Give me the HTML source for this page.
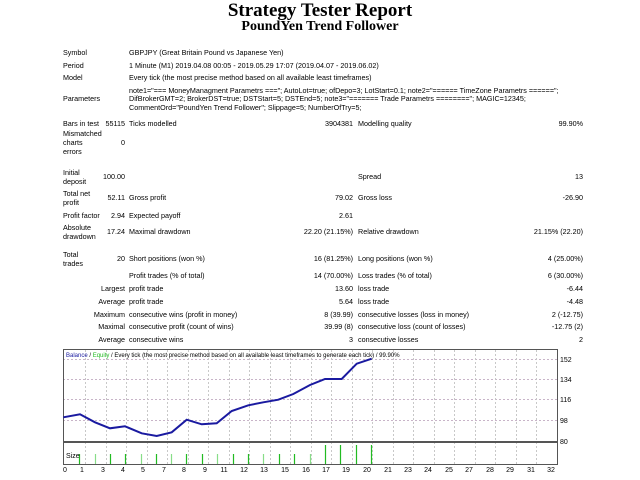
<!DOCTYPE html>
<html><head><meta charset="utf-8"><style>
body{margin:0;width:640px;height:480px;background:#fff;position:relative;overflow:hidden;font-family:"Liberation Sans",sans-serif;font-size:7.2px;color:#000}
.t{position:absolute;white-space:nowrap;line-height:8px}
.r{text-align:right}
h1,h2{position:absolute;left:0;width:640px;text-align:center;margin:0;font-family:"Liberation Serif",serif;font-weight:bold}
</style></head><body>
<h1 style="top:0px;font-size:19px;line-height:22px">Strategy Tester Report</h1>
<h2 style="top:19px;font-size:14px;line-height:16px">PoundYen Trend Follower</h2>

<div class="t" style="left:63px;top:49px">Symbol</div>
<div class="t" style="left:129px;top:49px">GBPJPY (Great Britain Pound vs Japanese Yen)</div>
<div class="t" style="left:63px;top:62px">Period</div>
<div class="t" style="left:129px;top:62px">1 Minute (M1) 2019.04.08 00:05 - 2019.05.29 17:07 (2019.04.07 - 2019.06.02)</div>
<div class="t" style="left:63px;top:74px">Model</div>
<div class="t" style="left:129px;top:74px">Every tick (the most precise method based on all available least timeframes)</div>
<div class="t" style="left:63px;top:95px">Parameters</div>
<div class="t" style="left:129px;top:87px">note1="=== MoneyManagment Parametrs ==="; AutoLot=true; ofDepo=3; LotStart=0.1; note2="====== TimeZone Parametrs ======";</div>
<div class="t" style="left:129px;top:95px">DifBrokerGMT=2; BrokerDST=true; DSTStart=5; DSTEnd=5; note3="======= Trade Parametrs ========"; MAGIC=12345;</div>
<div class="t" style="left:129px;top:104px">CommentOrd="PoundYen Trend Follower"; Slippage=5; NumberOfTry=5;</div>

<div class="t" style="left:63px;top:120px">Bars in test</div>
<div class="t r" style="left:100px;width:25px;top:120px">55115</div>
<div class="t" style="left:129px;top:120px">Ticks modelled</div>
<div class="t r" style="left:290px;width:63px;top:120px">3904381</div>
<div class="t" style="left:358px;top:120px">Modelling quality</div>
<div class="t r" style="left:520px;width:63px;top:120px">99.90%</div>
<div class="t" style="left:63px;top:130px">Mismatched</div>
<div class="t" style="left:63px;top:139px">charts</div>
<div class="t" style="left:63px;top:148px">errors</div>
<div class="t r" style="left:100px;width:25px;top:139px">0</div>

<div class="t" style="left:63px;top:169px">Initial</div>
<div class="t" style="left:63px;top:178px">deposit</div>
<div class="t r" style="left:90px;width:35px;top:173px">100.00</div>
<div class="t" style="left:358px;top:173px">Spread</div>
<div class="t r" style="left:520px;width:63px;top:173px">13</div>

<div class="t" style="left:63px;top:190px">Total net</div>
<div class="t" style="left:63px;top:199px">profit</div>
<div class="t r" style="left:90px;width:35px;top:194px">52.11</div>
<div class="t" style="left:129px;top:194px">Gross profit</div>
<div class="t r" style="left:290px;width:63px;top:194px">79.02</div>
<div class="t" style="left:358px;top:194px">Gross loss</div>
<div class="t r" style="left:520px;width:63px;top:194px">-26.90</div>

<div class="t" style="left:63px;top:212px">Profit factor</div>
<div class="t r" style="left:90px;width:35px;top:212px">2.94</div>
<div class="t" style="left:129px;top:212px">Expected payoff</div>
<div class="t r" style="left:290px;width:63px;top:212px">2.61</div>

<div class="t" style="left:63px;top:224px">Absolute</div>
<div class="t" style="left:63px;top:233px">drawdown</div>
<div class="t r" style="left:90px;width:35px;top:228px">17.24</div>
<div class="t" style="left:129px;top:228px">Maximal drawdown</div>
<div class="t r" style="left:250px;width:103px;top:228px">22.20 (21.15%)</div>
<div class="t" style="left:358px;top:228px">Relative drawdown</div>
<div class="t r" style="left:480px;width:103px;top:228px">21.15% (22.20)</div>

<div class="t" style="left:63px;top:251px">Total</div>
<div class="t" style="left:63px;top:260px">trades</div>
<div class="t r" style="left:90px;width:35px;top:255px">20</div>
<div class="t" style="left:129px;top:255px">Short positions (won %)</div>
<div class="t r" style="left:250px;width:103px;top:255px">16 (81.25%)</div>
<div class="t" style="left:358px;top:255px">Long positions (won %)</div>
<div class="t r" style="left:480px;width:103px;top:255px">4 (25.00%)</div>

<div class="t" style="left:129px;top:272px">Profit trades (% of total)</div>
<div class="t r" style="left:250px;width:103px;top:272px">14 (70.00%)</div>
<div class="t" style="left:358px;top:272px">Loss trades (% of total)</div>
<div class="t r" style="left:480px;width:103px;top:272px">6 (30.00%)</div>

<div class="t r" style="left:70px;width:55px;top:285px">Largest</div>
<div class="t" style="left:129px;top:285px">profit trade</div>
<div class="t r" style="left:250px;width:103px;top:285px">13.60</div>
<div class="t" style="left:358px;top:285px">loss trade</div>
<div class="t r" style="left:480px;width:103px;top:285px">-6.44</div>

<div class="t r" style="left:70px;width:55px;top:298px">Average</div>
<div class="t" style="left:129px;top:298px">profit trade</div>
<div class="t r" style="left:250px;width:103px;top:298px">5.64</div>
<div class="t" style="left:358px;top:298px">loss trade</div>
<div class="t r" style="left:480px;width:103px;top:298px">-4.48</div>

<div class="t r" style="left:70px;width:55px;top:311px">Maximum</div>
<div class="t" style="left:129px;top:311px">consecutive wins (profit in money)</div>
<div class="t r" style="left:250px;width:103px;top:311px">8 (39.99)</div>
<div class="t" style="left:358px;top:311px">consecutive losses (loss in money)</div>
<div class="t r" style="left:480px;width:103px;top:311px">2 (-12.75)</div>

<div class="t r" style="left:70px;width:55px;top:323px">Maximal</div>
<div class="t" style="left:129px;top:323px">consecutive profit (count of wins)</div>
<div class="t r" style="left:250px;width:103px;top:323px">39.99 (8)</div>
<div class="t" style="left:358px;top:323px">consecutive loss (count of losses)</div>
<div class="t r" style="left:480px;width:103px;top:323px">-12.75 (2)</div>

<div class="t r" style="left:70px;width:55px;top:336px">Average</div>
<div class="t" style="left:129px;top:336px">consecutive wins</div>
<div class="t r" style="left:250px;width:103px;top:336px">3</div>
<div class="t" style="left:358px;top:336px">consecutive losses</div>
<div class="t r" style="left:480px;width:103px;top:336px">2</div>

<div style="position:absolute;left:63px;top:349px;width:495px;height:1px;background:#555"></div>

<svg style="position:absolute;left:0;top:0" width="640" height="480">
<g stroke="#c8b4c8" stroke-width="1" stroke-dasharray="2,2" shape-rendering="crispEdges">
<line x1="63" y1="359.5" x2="557" y2="359.5"/>
<line x1="63" y1="379.5" x2="557" y2="379.5"/>
<line x1="63" y1="399.5" x2="557" y2="399.5"/>
<line x1="63" y1="420.5" x2="557" y2="420.5"/>
</g>
<g stroke="#c8c8c8" stroke-width="1" stroke-dasharray="2,2" shape-rendering="crispEdges">
<line x1="85.5" y1="350" x2="85.5" y2="464"/><line x1="106.5" y1="350" x2="106.5" y2="464"/><line x1="126.5" y1="350" x2="126.5" y2="464"/><line x1="147.5" y1="350" x2="147.5" y2="464"/><line x1="167.5" y1="350" x2="167.5" y2="464"/><line x1="188.5" y1="350" x2="188.5" y2="464"/><line x1="208.5" y1="350" x2="208.5" y2="464"/><line x1="229.5" y1="350" x2="229.5" y2="464"/><line x1="249.5" y1="350" x2="249.5" y2="464"/><line x1="270.5" y1="350" x2="270.5" y2="464"/><line x1="290.5" y1="350" x2="290.5" y2="464"/><line x1="311.5" y1="350" x2="311.5" y2="464"/><line x1="331.5" y1="350" x2="331.5" y2="464"/><line x1="352.5" y1="350" x2="352.5" y2="464"/><line x1="372.5" y1="350" x2="372.5" y2="464"/><line x1="393.5" y1="350" x2="393.5" y2="464"/><line x1="413.5" y1="350" x2="413.5" y2="464"/><line x1="434.5" y1="350" x2="434.5" y2="464"/><line x1="454.5" y1="350" x2="454.5" y2="464"/><line x1="475.5" y1="350" x2="475.5" y2="464"/><line x1="495.5" y1="350" x2="495.5" y2="464"/><line x1="516.5" y1="350" x2="516.5" y2="464"/><line x1="536.5" y1="350" x2="536.5" y2="464"/>
</g>
<rect x="63.5" y="349.5" width="494" height="115" fill="none" stroke="#555" shape-rendering="crispEdges"/>
<line x1="63" y1="442" x2="557" y2="442" stroke="#555" stroke-width="2"/>
<polyline fill="none" stroke="#1a1aa0" stroke-width="2" points="63.3,417.3 80,414.3 95,422.3 110,428.3 125,426.3 141.7,433.3 156.7,436 171.7,432.3 186.7,419.7 201.7,424.3 216.7,423.3 231.7,411 248.3,405.3 263.3,402.3 278.3,399.7 293.3,394 310,385 325,379 341.7,379 356.7,363.7 371.7,358.7"/>
<g stroke="#22bb22" stroke-width="1.2">
<line x1="79.5" y1="454" x2="79.5" y2="464"/><line x1="95.5" y1="454" x2="95.5" y2="464" stroke="#88dd88"/><line x1="110.5" y1="454" x2="110.5" y2="464"/><line x1="125.5" y1="454" x2="125.5" y2="464"/><line x1="141.5" y1="454" x2="141.5" y2="464" stroke="#88dd88"/><line x1="156.5" y1="454" x2="156.5" y2="464"/><line x1="171.5" y1="454" x2="171.5" y2="464" stroke="#88dd88"/><line x1="186.5" y1="454" x2="186.5" y2="464"/><line x1="202.5" y1="454" x2="202.5" y2="464"/><line x1="217.5" y1="454" x2="217.5" y2="464" stroke="#88dd88"/><line x1="233.5" y1="454" x2="233.5" y2="464"/><line x1="248.5" y1="454" x2="248.5" y2="464"/><line x1="263.5" y1="454" x2="263.5" y2="464" stroke="#88dd88"/><line x1="279.5" y1="454" x2="279.5" y2="464"/><line x1="294.5" y1="454" x2="294.5" y2="464"/><line x1="310.5" y1="454" x2="310.5" y2="464" stroke="#88dd88"/><line x1="325.5" y1="445" x2="325.5" y2="464"/><line x1="340.5" y1="445" x2="340.5" y2="464"/><line x1="356.5" y1="445" x2="356.5" y2="464"/><line x1="371.5" y1="445" x2="371.5" y2="464"/>
</g>
<g font-family="Liberation Sans, sans-serif" font-size="7" fill="#000">
<text x="560" y="362">152</text><text x="560" y="382">134</text><text x="560" y="402">116</text><text x="560" y="423">98</text><text x="560" y="444">80</text>
<text x="66" y="458">Size</text>
</g>
<g font-family="Liberation Sans, sans-serif" font-size="7" fill="#000" text-anchor="middle">
<text x="65" y="472">0</text><text x="82" y="472">1</text><text x="103" y="472">3</text><text x="123" y="472">4</text><text x="143" y="472">5</text><text x="164" y="472">7</text><text x="184" y="472">8</text><text x="205" y="472">9</text><text x="224" y="472">11</text><text x="244" y="472">12</text><text x="264" y="472">13</text><text x="285" y="472">15</text><text x="306" y="472">16</text><text x="326" y="472">17</text><text x="346" y="472">19</text><text x="367" y="472">20</text><text x="388" y="472">21</text><text x="408" y="472">23</text><text x="428" y="472">24</text><text x="449" y="472">25</text><text x="469" y="472">27</text><text x="490" y="472">28</text><text x="510" y="472">29</text><text x="531" y="472">31</text><text x="551" y="472">32</text>
</g>
<text x="66" y="357" font-family="Liberation Sans, sans-serif" font-size="6"><tspan fill="#1a1aa0">Balance</tspan> / <tspan fill="#22bb22">Equity</tspan> / Every tick (the most precise method based on all available least timeframes to generate each tick) / 99.90%</text>
</svg>
</body></html>
